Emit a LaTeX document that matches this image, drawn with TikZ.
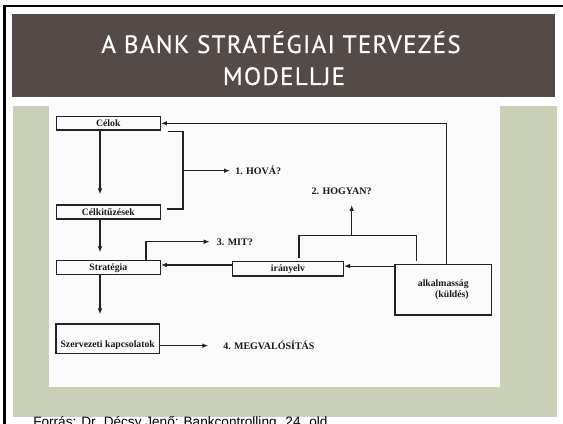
\documentclass[tikz,border=0pt]{standalone}
\usepackage{fontspec}
\setmainfont{Liberation Serif}
\setsansfont{Liberation Sans}
\newfontfamily\titlefont{PT Sans}[LetterSpace=5,FakeBold=0.5]
\usetikzlibrary{calc,arrows.meta}

\begin{document}
\begin{tikzpicture}[x=0.75pt,y=0.75pt,yscale=-1,xscale=1,
    line/.style={draw={rgb, 255:red, 35; green, 35; blue, 35}, line width=0.85},
    arr/.style={line, -{Latex[length=4.5pt,width=3.5pt]}},
    boxnode/.style={draw={rgb, 255:red, 35; green, 35; blue, 35}, line width=1, inner sep=0pt, font=\fontsize{7.3}{8.8}\selectfont\bfseries, text={rgb, 255:red, 25; green, 25; blue, 25}},
    lbl/.style={font=\fontsize{7.5}{8}\selectfont\bfseries, text={rgb, 255:red, 25; green, 25; blue, 25}, inner sep=0pt, text height=5pt, text depth=0pt},
    titletext/.style={font=\titlefont\fontsize{18.8}{20}\selectfont, text=white, inner sep=0pt}
  ]
\clip (0,0) rectangle (563,424);
%Shape: Rectangle [page]
\fill[white] (0,0) rectangle (563,424);
%Shape: Rectangle [frame]
\draw[black, line width=1.9] (4.6,6) rectangle (600,480);
%Shape: Rectangle [title bar]
\fill[fill={rgb, 255:red, 84; green, 75; blue, 72}] (12,14) rectangle (555,97);
%Shape: Rectangle [green panel]
\fill[fill={rgb, 255:red, 203; green, 208; blue, 185}] (12.7,106) rectangle (557,417);
%Shape: Rectangle [scan]
\fill[fill={rgb, 255:red, 251; green, 251; blue, 251}] (49,100) rectangle (500,387);

%Title
\node[titletext, anchor=base] (title1) at (281,53) {A BANK STRATÉGIAI TERVEZÉS};
\node[titletext, anchor=base] (title2) at (284,85) {MODELLJE};

%Boxes
\node[boxnode, minimum width=78pt, minimum height=10pt] (celok) at (108.3,123.3) {Célok};
\node[boxnode, minimum width=78pt, minimum height=10.5pt] (celk) at (108.3,212) {Célkitűzések};
\node[boxnode, minimum width=78pt, minimum height=10.5pt] (strat) at (108.3,267.7) {Stratégia};
\node[boxnode, minimum width=83pt, minimum height=10.7pt] (irany) at (288,268.8) {irányelv};
\node[boxnode, minimum width=72.5pt, minimum height=38pt, align=right] (alk) at (443.3,289.7) {alkalmasság\\(küldés)};
\node[boxnode, minimum width=77.5pt, minimum height=22pt, text height=13pt, text depth=0pt] (szerv) at (107.7,338.7) {Szervezeti kapcsolatok};

%Labels
\node[lbl, anchor=west] (hova) at (235,170.7) {1. HOVÁ?};
\node[lbl] (hogyan) at (341.7,190.7) {2. HOGYAN?};
\node[lbl, anchor=west] (mit) at (216.7,241.7) {3. MIT?};
\node[lbl, anchor=west] (megval) at (223,345.7) {4. MEGVALÓSÍTÁS};

%Straight Lines [bracket]
\coordinate (brk) at (183,170.7);
\draw[line] (168,131.7) -| (183,209) -- (167,209);
\draw[arr, shorten >=3.7pt] (brk) -- (hova.west);
%Straight Lines [down]
\draw[arr, shorten >=7.5pt] ($(celok.south)+(-8.3,0)$) -- ($(celk.north)+(-8.3,0)$);
\draw[arr, shorten >=5.8pt] ($(celk.south)+(-8.3,0)$) -- ($(strat.north)+(-8.3,0)$);
\draw[arr, shorten >=6.8pt] ($(strat.south)+(-8.3,0)$) -- ($(szerv.north)+(-7.7,0)$);
%Straight Lines [mit]
\draw[arr, shorten >=5.3pt] ($(strat.north east)+(-15,0)$) |- (mit.west);
%Straight Lines [hogyan]
\coordinate (hub) at (351.7,235.7);
\draw[line, shorten <=2pt, shorten >=2pt] ($(irany.north)+(11,0)$) |- (hub) -| ($(alk.north west)+(22,0)$);
\draw[arr, shorten >=8pt] (hub) -- (hub |- hogyan.south);
%Straight Lines [feedback]
\draw[arr] ($(alk.north west)+(52,0)$) |- (celok.east);
%Straight Lines [horizontal]
\coordinate (alkw) at ($(alk.north west)+(0,2.4)$);
\draw[arr] (alkw) -- (alkw -| irany.east);
\coordinate (iranyw) at ($(irany.west)+(0,-3.8)$);
\draw[arr] (iranyw) -- (iranyw -| strat.east);
\draw[arr, shorten >=11pt] (szerv.east |- megval.west) -- (megval.west);

%Source
\node[anchor=base west, font=\sffamily\fontsize{10.2}{12}\selectfont, inner sep=0pt] (forras) at (33,426.4) {Forrás: Dr. Décsy Jenő: Bankcontrolling. 24. old.};
\end{tikzpicture}
\end{document}
